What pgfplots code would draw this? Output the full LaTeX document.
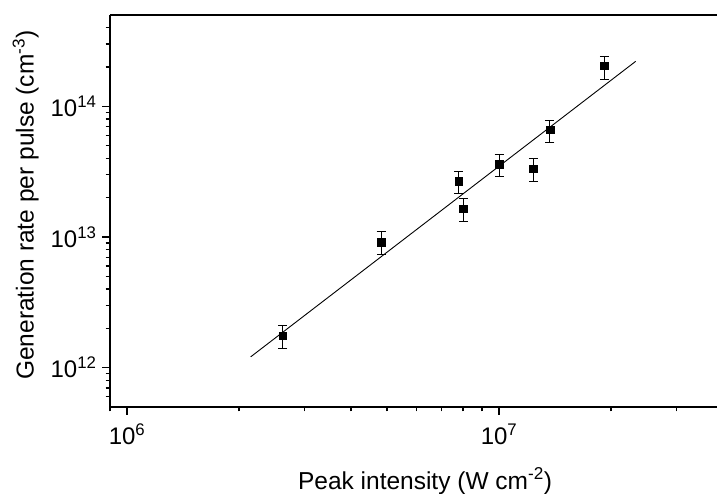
\documentclass[border=0pt]{standalone}
\usepackage{fontspec}
\setmainfont{Liberation Sans}
\usepackage{pgfplots}
\usepackage{pgfplotstable}
\pgfplotsset{compat=1.18}
\pgfplotstableread{
x y ep em
2.62e6 1.75e12 0.34e12 0.35e12
4.82e6 9.12e12 1.88e12 1.77e12
7.79e6 2.66e13 0.53e13 0.52e13
8.02e6 1.65e13 0.33e13 0.33e13
1.0e7 3.59e13 0.72e13 0.70e13
1.236e7 3.33e13 0.63e13 0.67e13
1.37e7 6.63e13 1.22e13 1.36e13
1.92e7 2.04e14 0.36e14 0.43e14
}\datatable
\pgfplotstableread{
x y
2.15e6 1.21e12
2.33e7 2.21e14
}\fittable
\begin{document}
\begin{tikzpicture}[x=1pt,y=1pt]
\path[use as bounding box] (0,0) rectangle (717,494);
\begin{axis}[
 at={(110pt,87pt)}, anchor=south west,
 scale only axis, width=607pt, height=392pt,
 xmode=log, ymode=log,
 xmin=9e5, xmax=3.855e7, ymin=5e11, ymax=5e14,
 axis x line*=box, axis y line*=left,
 xtick pos=bottom, ytick pos=left,
 tick align=outside,
 major tick length=8pt, minor tick length=4.5pt,
 every tick/.style={black, line width=1.3pt},
 axis line style={line width=1.5pt},
 xtick={1e6,1e7}, xticklabels={10\textsuperscript{6},10\textsuperscript{7}},
 ytick={1e12,1e13,1e14}, yticklabels={10\textsuperscript{12},10\textsuperscript{13},10\textsuperscript{14}},
 minor xtick={9e5,2e6,3e6,4e6,5e6,6e6,7e6,8e6,9e6,2e7,3e7},
 minor ytick={6e11,7e11,8e11,9e11,2e12,3e12,4e12,5e12,6e12,7e12,8e12,9e12,2e13,3e13,4e13,5e13,6e13,7e13,8e13,9e13,2e14,3e14,4e14},
 tick label style={font=\fontsize{24}{28}\selectfont},
 xticklabel style={yshift=-5pt},
 yticklabel style={xshift=-2pt},
 label style={font=\fontsize{24.5}{29}\selectfont},
 xlabel={Peak intensity (W cm\textsuperscript{-2})},
 ylabel={Generation rate per pulse (cm\textsuperscript{-3})},
 xlabel style={at={(axis description cs:0.519,-0.189)}, anchor=center},
 ylabel style={at={(axis description cs:-0.139,0.515)}, anchor=center, rotate=0},
 clip=false,
]
\addplot[black, line width=0.9pt] table[x=x,y=y] {\fittable};
\addplot[only marks, mark=square*, mark size=3.8pt, black,
  error bars/.cd, y dir=both, y explicit,
  error bar style={line width=1pt},
  error mark options={rotate=90, mark size=4.5pt, line width=1pt}]
  table[x=x,y=y,y error plus=ep,y error minus=em] {\datatable};
\end{axis}
\end{tikzpicture}
\end{document}
